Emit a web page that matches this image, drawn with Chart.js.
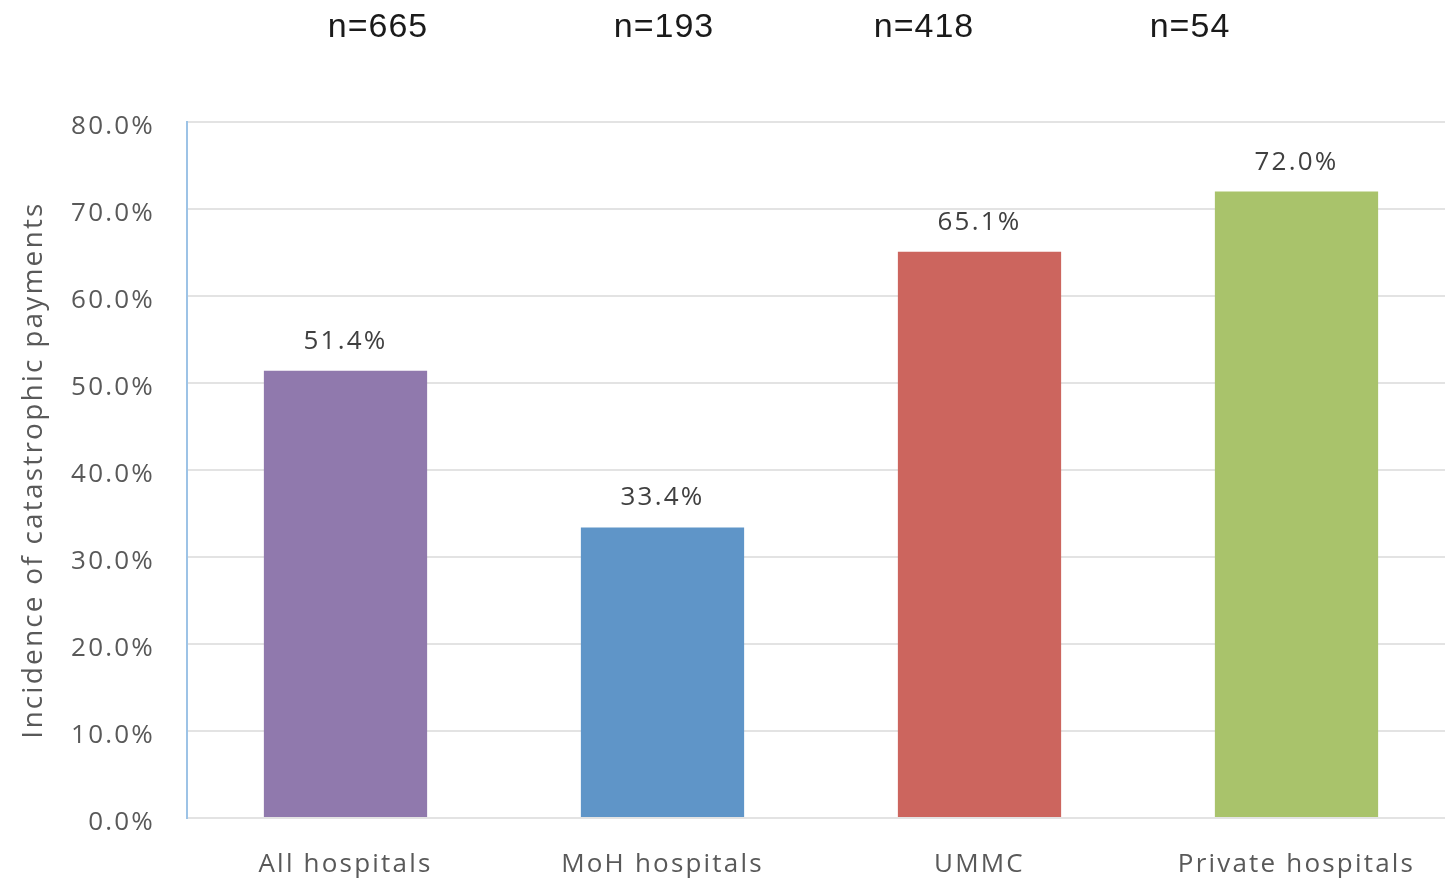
<!DOCTYPE html>
<html>
<head>
<meta charset="utf-8">
<script src="https://cdn.jsdelivr.net/npm/chart.js@4"></script>
<style>
  html, body { margin: 0; padding: 0; background: #fff; overflow: hidden; }
  #wrap { width: 1455px; height: 878px; }
</style>
</head>
<body>
<div id="wrap"><canvas id="chart" width="1455" height="878"></canvas></div>
<script>
const categories = ['All hospitals', 'MoH hospitals', 'UMMC', 'Private hospitals'];
const incidence = [51.4, 33.4, 65.1, 72.0];
const sampleSizes = ['n=665', 'n=193', 'n=418', 'n=54'];
const barColors = ['#9079ad', '#5f95c8', '#cc655e', '#a9c36b'];
const yTicks = [0, 10, 20, 30, 40, 50, 60, 70, 80];

// where the n= labels sit along the top
const nLabelX = [378, 664, 924, 1190];
const SPACING = '2.2px';

// the reference text is loosely spaced, so widen all canvas text a bit
const looseText = {
    id: 'looseText',
    beforeLayout(chart) { chart.ctx.letterSpacing = SPACING; },
    beforeDraw(chart) { chart.ctx.letterSpacing = SPACING; }
};

const barValueLabels = {
    id: 'barValueLabels',
    afterDatasetsDraw(chart) {
        const ctx = chart.ctx;
        const meta = chart.getDatasetMeta(0);
        ctx.save();
        ctx.font = '26px "Open Sans"';
        ctx.fillStyle = '#404040';
        ctx.textAlign = 'center';
        ctx.textBaseline = 'alphabetic';
        meta.data.forEach((bar, i) => {
            ctx.fillText(incidence[i].toFixed(1) + '%', bar.x, bar.y - 22);
        });
        ctx.restore();
    }
};

const sampleLabels = {
    id: 'sampleLabels',
    afterDraw(chart) {
        const ctx = chart.ctx;
        ctx.save();
        ctx.letterSpacing = '1px';
        ctx.font = '34px "Liberation Sans"';
        ctx.fillStyle = '#1a1a1a';
        ctx.textAlign = 'center';
        ctx.textBaseline = 'middle';
        sampleSizes.forEach((s, i) => ctx.fillText(s, nLabelX[i], 28));
        ctx.restore();
    }
};

new Chart(document.getElementById('chart'), {
    type: 'bar',
    data: {
        labels: categories,
        datasets: [{
            data: incidence,
            backgroundColor: barColors,
            categoryPercentage: 1,
            barPercentage: 0.515
        }]
    },
    options: {
        responsive: false,
        animation: false,
        layout: { padding: { top: 122, right: 0, left: 0, bottom: 0 } },
        plugins: { legend: { display: false }, tooltip: { enabled: false } },
        scales: {
            x: {
                grid: { display: false },
                border: { display: false },
                ticks: { color: '#595959', font: { family: 'Open Sans', size: 26 }, padding: 23 },
                afterFit(scale) { scale.height = 60; }
            },
            y: {
                min: 0,
                max: 80,
                afterBuildTicks(scale) { scale.ticks = yTicks.map(v => ({ value: v })); },
                ticks: {
                    color: '#595959',
                    font: { family: 'Open Sans', size: 26 },
                    padding: 32,
                    labelOffset: 5,
                    callback: v => v.toFixed(1) + '%'
                },
                grid: { color: '#e3e3e3', lineWidth: 2, drawTicks: false },
                border: { color: '#9dc3e6', width: 2 },
                title: {
                    display: true,
                    text: 'Incidence of catastrophic payments',
                    color: '#595959',
                    font: { family: 'Open Sans', size: 28 },
                    padding: { top: 17, bottom: 0 }
                },
                afterFit(scale) { scale.width = 187; }
            }
        }
    },
    plugins: [looseText, barValueLabels, sampleLabels]
});
</script>
</body>
</html>
